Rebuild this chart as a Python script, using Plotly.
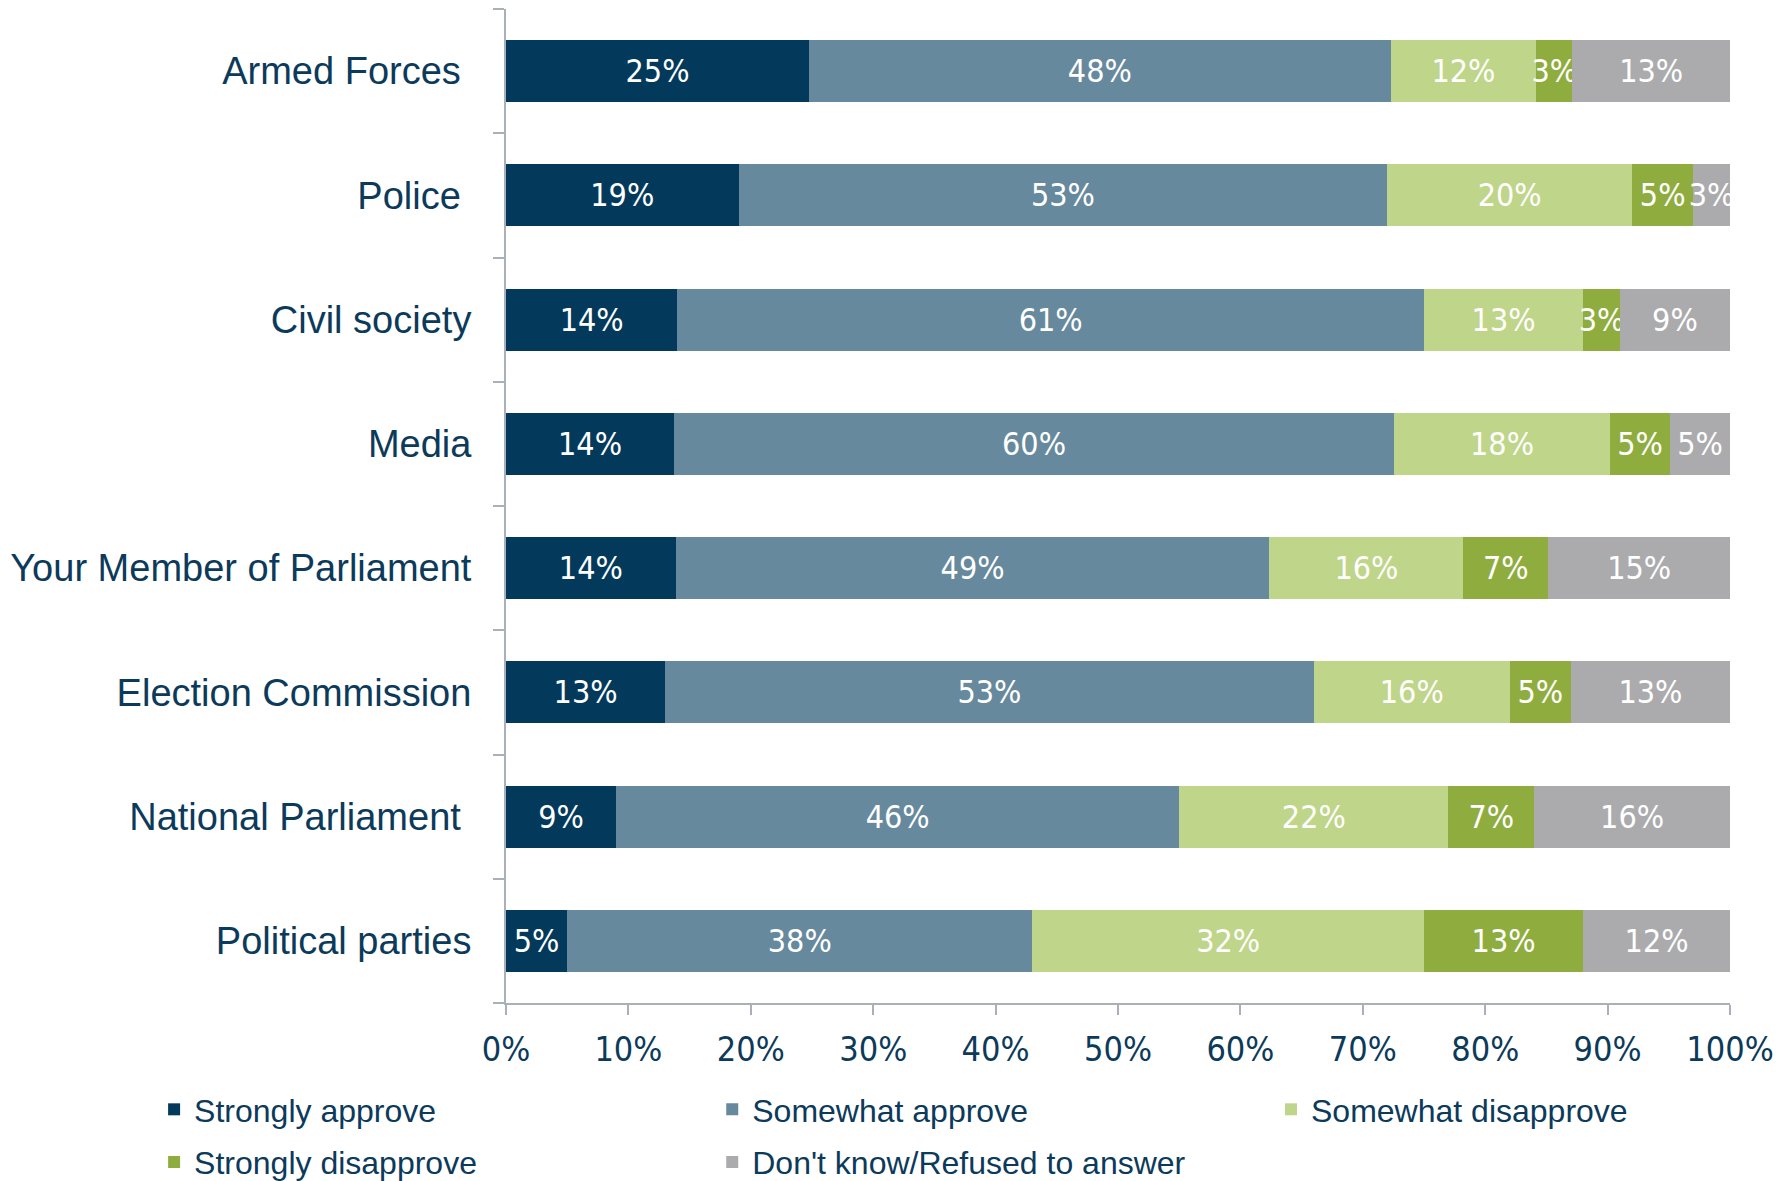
import plotly.graph_objects as go

categories = ["Armed Forces", "Police", "Civil society", "Media",
              "Your Member of Parliament", "Election Commission",
              "National Parliament", "Political parties"]
category_labels = ["Armed Forces\u00a0", "Police\u00a0", "Civil society", "Media",
                   "Your Member of Parliament", "Election Commission",
                   "National Parliament\u00a0", "Political parties"]

series_names = ["Strongly approve", "Somewhat approve", "Somewhat disapprove",
                "Strongly disapprove", "Don't know/Refused to answer"]

strongly_approve = [25, 19, 14, 14, 14, 13, 9, 5]
somewhat_approve = [48, 53, 61, 60, 49, 53, 46, 38]
somewhat_disapprove = [12, 20, 13, 18, 16, 16, 22, 32]
strongly_disapprove = [3, 5, 3, 5, 7, 5, 7, 13]
dont_know = [13, 3, 9, 5, 15, 13, 16, 12]

series_values = [strongly_approve, somewhat_approve, somewhat_disapprove,
                 strongly_disapprove, dont_know]
colors = ["#033A5B", "#67899D", "#BFD589", "#8FAD3F", "#ABABAD"]

legend_ids = ["legend", "legend2", "legend3", "legend4", "legend5"]
legend_x = [-0.2875, 0.1685, 0.625, -0.2875, 0.1685]
legend_y = [-0.0795, -0.0795, -0.0795, -0.1325, -0.1325]

x_tickvals = [0, 10, 20, 30, 40, 50, 60, 70, 80, 90, 100]
x_ticktext = ["0%", "10%", "20%", "30%", "40%", "50%", "60%", "70%", "80%", "90%", "100%"]

TEXT = "#0C3A5B"
AXIS = "#A9B0BA"
NUM_FONT = "Liberation Sans Narrow, DejaVu Sans Condensed, Arial Narrow, sans-serif"
LBL_FONT = "Liberation Sans, Arial, sans-serif"

fig = go.Figure()
for name, vals, col, leg in zip(series_names, series_values, colors, legend_ids):
    fig.add_trace(go.Bar(
        y=categories, x=vals, name=name, orientation="h",
        marker=dict(color=col, line=dict(width=0)),
        text=[f"{v}%" for v in vals],
        textposition="inside", insidetextanchor="middle",
        textangle=0, constraintext="none",
        textfont=dict(family=NUM_FONT, size=32, color="white"),
        hoverinfo="skip", legend=leg,
    ))

legends = {}
for leg, lx, ly in zip(legend_ids, legend_x, legend_y):
    legends[leg] = dict(
        orientation="h", xanchor="left", yanchor="top", x=lx, y=ly,
        font=dict(family=LBL_FONT, size=32, color=TEXT),
        itemclick=False, bgcolor="rgba(0,0,0,0)",
    )

fig.update_layout(
    barmode="stack", barnorm="percent", bargap=0.5,
    width=1783, height=1181,
    margin=dict(l=498, r=61, t=1, b=186, autoexpand=False),
    paper_bgcolor="white", plot_bgcolor="white",
    font=dict(family=LBL_FONT, color=TEXT),
    showlegend=True,
    **legends,
)
fig.update_xaxes(
    range=[0, 100], tickvals=x_tickvals, ticktext=x_ticktext,
    showgrid=False, zeroline=False,
    showline=True, linecolor=AXIS, linewidth=2,
    ticks="outside", ticklen=10, tickcolor=AXIS, tickwidth=2,
    tickfont=dict(family=NUM_FONT, size=34, color=TEXT),
    ticklabelstandoff=5, automargin=False,
)
fig.update_yaxes(
    autorange="reversed", tickvals=categories, ticktext=category_labels,
    tickson="boundaries", showgrid=False,
    showline=True, linecolor=AXIS, linewidth=2,
    ticks="outside", ticklen=11, tickcolor=AXIS, tickwidth=2,
    tickfont=dict(family=LBL_FONT, size=38, color=TEXT),
    ticklabelstandoff=25, automargin=False,
)

fig.write_html("out.html")
